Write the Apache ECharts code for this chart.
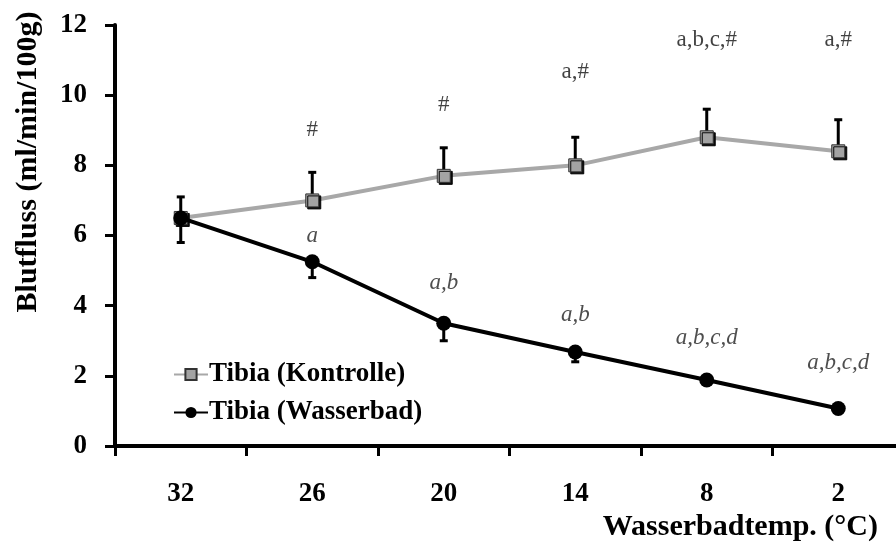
<!DOCTYPE html>
<html>
<head>
<meta charset="utf-8">
<script src="https://cdn.jsdelivr.net/npm/echarts@6/dist/echarts.min.js"></script>
<style>
  html, body { margin: 0; padding: 0; background: #fff; }
  #chart { width: 896px; height: 550px; }
</style>
</head>
<body>
<div id="chart"></div>
<script>
// Wassertemperatur-Stufen (°C)
const categories = ['32', '26', '20', '14', '8', '2'];

// Blutfluss Tibia, Mittelwert und Standardabweichung (ml/min/100g)
const kontrolleMean = [6.5, 7.0, 7.7, 8.0, 8.8, 8.4];
const kontrolleSD   = [0.6, 0.8, 0.8, 0.8, 0.8, 0.9];
const wasserbadMean = [6.5, 5.25, 3.5, 2.68, 1.88, 1.07];
const wasserbadSD   = [0.7, 0.45, 0.5, 0.28, 0.08, 0.05];

// Signifikanz-Kennzeichnungen und ihre Höhe auf der y-Achse
const kontrolleSig     = ['', '#', '#', 'a,#', 'a,b,c,#', 'a,#'];
const kontrolleSigY    = [null, 9.0, 9.72, 10.66, 11.57, 11.57];
const wasserbadSig     = ['', 'a', 'a,b', 'a,b', 'a,b,c,d', 'a,b,c,d'];
const wasserbadSigY    = [null, 6.0, 4.65, 3.73, 3.08, 2.37];

// y-Achse
const yMin = 0, yMax = 12, yStep = 2;

const serif = '"Liberation Serif", "DejaVu Serif", serif';

function errorBarSeries(name, mean, sd, dir) {
  return {
    type: 'custom',
    name: name + ' SD',
    z: 1,
    silent: true,
    data: mean.map((m, i) => [i, m, m + dir * sd[i]]),
    renderItem: function (params, api) {
      const p0 = api.coord([api.value(0), api.value(1)]);
      const p1 = api.coord([api.value(0), api.value(2)]);
      const cap = 4;
      const style = { stroke: '#000', lineWidth: 3, fill: null };
      return {
        type: 'group',
        children: [
          { type: 'line', shape: { x1: p0[0], y1: p0[1], x2: p1[0], y2: p1[1] }, style: style },
          { type: 'line', shape: { x1: p1[0] - cap, y1: p1[1], x2: p1[0] + cap, y2: p1[1] }, style: style }
        ]
      };
    }
  };
}

function sigSeries(name, texts, levels, italic, color) {
  const data = [];
  levels.forEach((y, i) => { if (y !== null) data.push({ value: [i, y], text: texts[i] }); });
  return {
    type: 'scatter',
    name: name,
    silent: true,
    symbol: 'circle',
    symbolSize: 1,
    itemStyle: { color: 'rgba(0,0,0,0)' },
    z: 5,
    data: data,
    label: {
      show: true,
      position: 'inside',
      formatter: p => p.data.text,
      fontFamily: serif,
      fontSize: 23,
      fontStyle: italic ? 'italic' : 'normal',
      color: color
    }
  };
}

const chart = echarts.init(document.getElementById('chart'), null, { renderer: 'canvas' });

chart.setOption({
  backgroundColor: '#ffffff',
  animation: false,
  grid: { left: 115, top: 25, width: 789, height: 421, containLabel: false, outerBoundsMode: 'none' },
  legend: {
    left: 168,
    top: 356,
    orient: 'vertical',
    itemWidth: 34,
    itemHeight: 14,
    itemGap: 11,
    data: ['Tibia (Kontrolle)', 'Tibia (Wasserbad)'],
    textStyle: { fontFamily: serif, fontSize: 27, fontWeight: 'bold', color: '#000', padding: [0, 0, 0, -4] }
  },
  xAxis: {
    type: 'category',
    data: categories,
    boundaryGap: true,
    axisLine: { lineStyle: { color: '#000', width: 4 } },
    axisTick: { show: true, length: 10, lineStyle: { color: '#000', width: 3 } },
    axisLabel: { margin: 35, fontFamily: serif, fontSize: 27, fontWeight: 'bold', color: '#000' },
    splitLine: { show: false }
  },
  yAxis: {
    type: 'value',
    min: yMin,
    max: yMax,
    interval: yStep,
    axisLine: { show: true, lineStyle: { color: '#000', width: 4 } },
    axisTick: { show: true, length: 10, lineStyle: { color: '#000', width: 3 } },
    axisLabel: { margin: 28, fontFamily: serif, fontSize: 27, fontWeight: 'bold', color: '#000' },
    splitLine: { show: false }
  },
  graphic: [
    {
      type: 'text',
      x: 28,
      y: 162,
      rotation: Math.PI / 2,
      style: {
        text: 'Blutfluss (ml/min/100g)',
        font: 'bold 30px ' + serif,
        fill: '#000',
        textAlign: 'center',
        textVerticalAlign: 'middle'
      }
    },
    {
      type: 'text',
      right: 18,
      top: 512,
      style: {
        text: 'Wasserbadtemp. (°C)',
        font: 'bold 30px ' + serif,
        fill: '#000'
      }
    }
  ],
  series: [
    errorBarSeries('Tibia (Kontrolle)', kontrolleMean, kontrolleSD, 1),
    errorBarSeries('Tibia (Wasserbad)', wasserbadMean, wasserbadSD, -1),
    {
      type: 'line',
      name: 'Tibia (Kontrolle)',
      data: kontrolleMean,
      z: 3,
      symbol: 'rect',
      symbolSize: 13,
      lineStyle: { color: '#a8a8a8', width: 4 },
      itemStyle: {
        color: '#a3a3a3',
        borderColor: '#333',
        borderWidth: 1,
        shadowColor: 'rgba(0,0,0,0.95)',
        shadowOffsetX: 2,
        shadowOffsetY: 2,
        shadowBlur: 0
      }
    },
    {
      type: 'line',
      name: 'Tibia (Wasserbad)',
      data: wasserbadMean,
      z: 4,
      symbol: 'circle',
      symbolSize: 15,
      lineStyle: { color: '#000', width: 4 },
      itemStyle: { color: '#000', borderColor: '#000', borderWidth: 0 }
    },
    sigSeries('sigK', kontrolleSig, kontrolleSigY, false, '#111'),
    sigSeries('sigW', wasserbadSig, wasserbadSigY, true, '#222')
  ]
});
</script>
</body>
</html>
